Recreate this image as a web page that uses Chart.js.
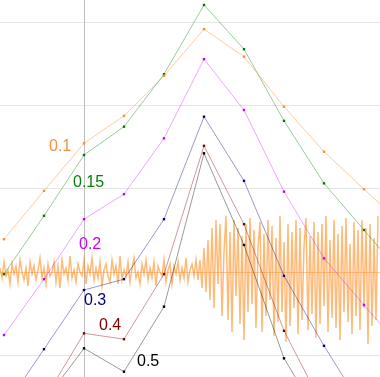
<!DOCTYPE html>
<html>
<head>
<meta charset="utf-8">
<script src="https://cdn.jsdelivr.net/npm/chart.js@4"></script>
<style>
  html, body { margin: 0; padding: 0; background: #fff; }
  #wrap { width: 380px; height: 377px; }
</style>
</head>
<body>
<div id="wrap"><canvas id="chart" width="380" height="377"></canvas></div>
<script>
// x positions of the sampled curves
const steps = [0, 1, 2, 3, 4, 5, 6, 7, 8, 9, 10];

// one curve per parameter value
const s010 = [1.39, 1.97, 2.54, 2.87, 3.35, 3.91, 3.58, 2.98, 2.44, 1.99, 1.55];
const s015 = [0.97, 1.67, 2.40, 2.74, 3.37, 4.20, 3.67, 2.81, 2.06, 1.50, 0.94];
const s020 = [0.24, 0.91, 1.63, 1.93, 2.60, 3.55, 2.94, 1.96, 1.16, 0.60, 0.04];
const s030 = [-0.64, 0.07, 0.78, 0.91, 1.63, 2.86, 2.09, 0.95, 0.11, -0.66, null];
const s040 = [null, -0.54, 0.26, 0.19, 0.97, 2.51, 1.57, 0.29, -0.64, null, null];
const s050 = [null, -0.56, 0.08, -0.20, 0.58, 2.42, 1.32, -0.04, -0.84, null, null];

// gridlines
const xGrid = [2];
const yGrid = [0, 1, 2, 3, 4];
const signalZero = [0];

// noisy signal, one value per sample (quiet first half, loud second half)
const signal = [
  2, -3, 5, -2, 1, -6, 4, -1, 3, -5,
  6, 0, -4, 2, -7, 5, -1, 3, -4, 1,
  7, -3, 2, -6, 4, -2, 0, 5, -5, 3,
  -8, 6, -1, 2, -4, 8, -3, 1, -5, 4,
  0, -2, 6, -6, 3, -1, 7, -4, 2, -3,
  5, -7, 1, 4, -2, -5, 6, -1, 3, -6,
  8, -4, 1, -2, 5, -5, 2, 7, -3, 0,
  -6, 4, -1, 6, -4, 2, -3, 5, -7, 3,
  0, -2, 6, -5, 1, 4, -6, 3, -1, 5,
  -4, 2, -3, 7, -5, 1, 4, -2, 6, -4,
  6, -8, 12, -10, 16, -14, 22, -18, 26, -6,
  24, -22, 10, 28, -24, 20, -30, 26, -12, 22,
  -26, 18, -34, 24, -20, 27, -16, 21, -28, 12,
  25, -30, 19, -22, 26, -14, 23, -32, 17, -25,
  28, -20, 15, -35, 24, -27, 20, -18, 26, -31,
  22, -24, 13, 27, -29, 18, -21, 25, -33, 20,
  -26, 24, -17, 28, -30, 16, -23, 26, -28, 19,
  -34, 23, -20, 27, -25, 14, -31, 25, -22, 21,
  -29, 26, -18, 22, -36, 24, -27, 17, -24, 28
];

// text labels next to the curves (data coordinates)
const curveLabels = [
  { text: '0.1',  x: 1.125, y: 2.45,  color: '#f7923a' },
  { text: '0.15', x: 1.725, y: 2.02,  color: '#0a7d0a' },
  { text: '0.2',  x: 1.875, y: 1.27,  color: '#cc00ff' },
  { text: '0.3',  x: 2.0,   y: 0.60,  color: '#000080' },
  { text: '0.4',  x: 2.375, y: 0.30,  color: '#800000' },
  { text: '0.5',  x: 3.325, y: -0.13, color: '#000000' }
];

const curve = (values, color, line) => ({
  data: values.map((v, i) => ({ x: steps[i], y: v })),
  borderColor: line,
  backgroundColor: color,
  pointBackgroundColor: color,
  borderWidth: 1,
  pointStyle: 'rect',
  pointRadius: 1.7,
  pointBorderWidth: 0,
  xAxisID: 'x',
  yAxisID: 'y'
});

// gridlines drawn from the (hidden) scales so they take no layout space
const gridPlugin = {
  id: 'grid',
  beforeDatasetsDraw(chart) {
    const { ctx, scales, chartArea: a } = chart;
    ctx.save();
    ctx.lineWidth = 1;
    ctx.strokeStyle = '#e6e6e6';
    yGrid.forEach(v => {
      const p = Math.round(scales.y.getPixelForValue(v)) + 0.5;
      ctx.beginPath(); ctx.moveTo(a.left, p); ctx.lineTo(a.right, p); ctx.stroke();
    });
    ctx.strokeStyle = 'rgba(255,190,130,0.6)';
    signalZero.forEach(v => {
      const p = Math.round(scales.yw.getPixelForValue(v)) + 0.5;
      ctx.beginPath(); ctx.moveTo(a.left, p); ctx.lineTo(a.right, p); ctx.stroke();
    });
    ctx.strokeStyle = '#bdbdbd';
    xGrid.forEach(v => {
      const p = Math.round(scales.x.getPixelForValue(v)) + 0.5;
      ctx.beginPath(); ctx.moveTo(p, a.top); ctx.lineTo(p, a.bottom); ctx.stroke();
    });
    ctx.restore();
  }
};

const labelPlugin = {
  id: 'curveLabels',
  afterDatasetsDraw(chart) {
    const { ctx, scales } = chart;
    ctx.save();
    ctx.font = '16px "Liberation Sans", Arial, sans-serif';
    ctx.textAlign = 'left';
    ctx.textBaseline = 'alphabetic';
    curveLabels.forEach(l => {
      ctx.fillStyle = l.color;
      ctx.fillText(l.text, scales.x.getPixelForValue(l.x), scales.y.getPixelForValue(l.y));
    });
    ctx.restore();
  }
};

new Chart(document.getElementById('chart'), {
  type: 'line',
  data: {
    datasets: [
      curve(s010, '#ff8c2a', 'rgba(255,140,40,0.45)'),
      curve(s015, '#007a00', 'rgba(0,128,0,0.4)'),
      curve(s020, '#c000ff', 'rgba(200,0,255,0.35)'),
      curve(s030, '#000080', 'rgba(0,0,128,0.4)'),
      curve(s040, '#800000', 'rgba(128,0,0,0.4)'),
      curve(s050, '#000000', 'rgba(0,0,0,0.4)'),
      {
        data: signal.map((v, i) => ({ x: i, y: v })),
        borderColor: 'rgba(255,140,30,0.6)',
        borderWidth: 1.5,
        pointRadius: 0,
        xAxisID: 'xw',
        yAxisID: 'yw'
      }
    ]
  },
  options: {
    responsive: false,
    animation: false,
    devicePixelRatio: 1,
    layout: { padding: 0, autoPadding: false },
    plugins: { legend: { display: false }, tooltip: { enabled: false } },
    scales: {
      x:  { type: 'linear', min: -0.1, max: 9.4, display: false },
      xw: { type: 'linear', min: 0, max: 190, display: false },
      y:  { type: 'linear', min: -0.264, max: 4.26, display: false },
      yw: { type: 'linear', min: -52.5, max: 136, display: false }
    }
  },
  plugins: [gridPlugin, labelPlugin]
});
</script>
</body>
</html>
